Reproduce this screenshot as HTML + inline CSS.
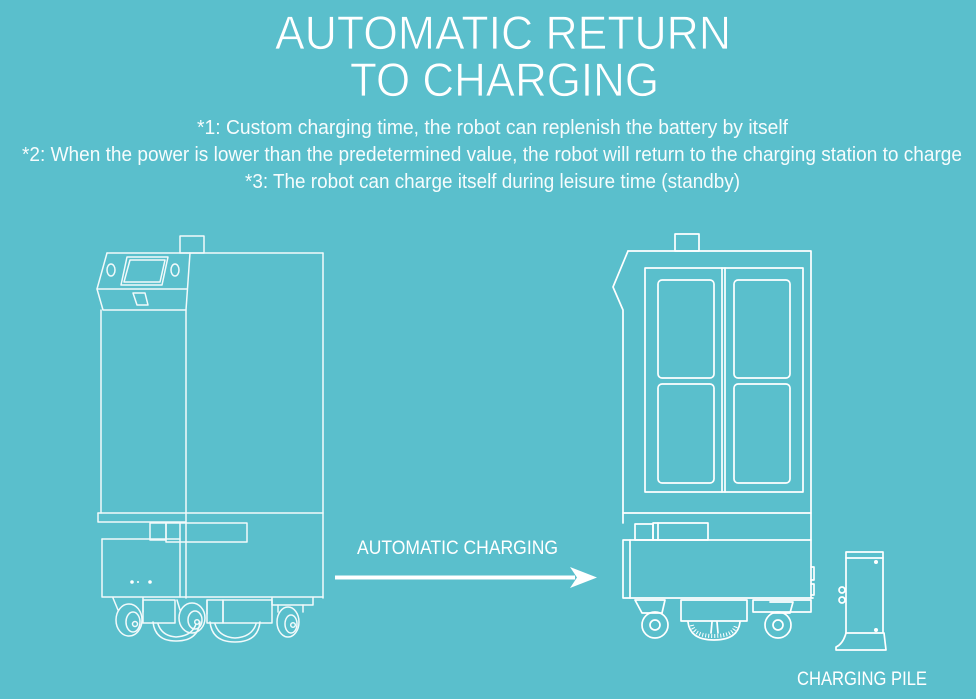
<!DOCTYPE html>
<html>
<head>
<meta charset="utf-8">
<style>
  html,body{margin:0;padding:0;background:#5ABFCC;}
  body{width:976px;height:699px;overflow:hidden;}
  svg{display:block;}
  .t{font-family:"Liberation Sans",sans-serif;fill:#fff;}
  .l{fill:none;stroke:#fff;stroke-width:1.7;stroke-linejoin:round;stroke-linecap:round;}
  .ls{fill:none;stroke:#fff;stroke-width:1.5;stroke-linejoin:round;stroke-linecap:round;opacity:.92;}
</style>
</head>
<body>
<svg width="976" height="699" viewBox="0 0 976 699" xmlns="http://www.w3.org/2000/svg">
  <rect x="0" y="0" width="976" height="699" fill="#5ABFCC"/>

  <!-- Title -->
  <text class="t" x="275" y="49" font-size="47" textLength="456" lengthAdjust="spacingAndGlyphs" stroke="#5ABFCC" stroke-width="0.8">AUTOMATIC RETURN</text>
  <text class="t" x="350" y="96" font-size="47" textLength="309" lengthAdjust="spacingAndGlyphs" stroke="#5ABFCC" stroke-width="0.8">TO CHARGING</text>

  <!-- Sub lines -->
  <text class="t" x="197" y="134" font-size="20" textLength="591" lengthAdjust="spacingAndGlyphs" fill-opacity="0.95">*1:  Custom charging time, the robot can replenish the battery by itself</text>
  <text class="t" x="22" y="161" font-size="20" textLength="940" lengthAdjust="spacingAndGlyphs" fill-opacity="0.95">*2: When the power is lower than the predetermined value, the robot will return to the charging station to charge</text>
  <text class="t" x="245" y="188" font-size="20" textLength="495" lengthAdjust="spacingAndGlyphs" fill-opacity="0.95">*3: The robot can charge itself during leisure time (standby)</text>

  <!-- ===== Left robot ===== -->
  <g class="ls">
    <rect x="180" y="236" width="24" height="17"/>
    <path d="M107,253 L323,253"/>
    <path d="M107,253 L97,289 L103,310 L186,310 L190,253"/>
    <path d="M97,289 L187,289"/>
    <path d="M127,257 L168,257 L162,285 L121,285 Z"/>
    <path d="M130,260 L165,260 L160,282 L124,282 Z"/>
    <ellipse cx="111" cy="270" rx="4" ry="6"/>
    <ellipse cx="175" cy="270" rx="4" ry="6"/>
    <path d="M133,293 L145,293 L148,305 L137,305 Z"/>
    <path d="M101,310 L101,513"/>
    <path d="M186,310 L186,598"/>
    <path d="M323,253 L323,598"/>
    <path d="M98,513 L323,513"/>
    <path d="M98,513 L98,522 L186,522"/>
    <rect x="150" y="523" width="16" height="17"/>
    <rect x="166" y="523" width="81" height="19"/>
    <path d="M102,539 L180,539"/>
    <path d="M102,539 L102,597 L323,597"/>
    <path d="M180,523 L180,597"/>
    <path d="M113,598 L118,610"/>
    <path d="M143,598 L143,612"/>
    <ellipse cx="129" cy="620" rx="13" ry="16"/>
    <ellipse cx="133" cy="622" rx="7" ry="10"/>
    <circle cx="135" cy="624" r="2.5"/>
    <rect x="143" y="600" width="32" height="23"/>
    <path d="M153,622 Q155,641 176,641 Q198,641 200,622"/>
    <path d="M158,624 Q162,636 176,637 Q192,636 196,624"/>
    <path d="M177,600 L180,610"/>
    <path d="M207,600 L207,614"/>
    <ellipse cx="192" cy="618" rx="13" ry="15"/>
    <ellipse cx="195" cy="620" rx="7" ry="9"/>
    <circle cx="197" cy="622" r="2.3"/>
    <rect x="207" y="600" width="16" height="23"/>
    <rect x="223" y="600" width="49" height="23"/>
    <path d="M210,622 Q212,642 235,642 Q258,642 260,622"/>
    <path d="M215,624 Q219,637 235,638 Q252,637 256,624"/>
    <path d="M272,598 L272,605 L313,605 L313,598"/>
    <path d="M278,605 L278,612"/>
    <path d="M303,605 L303,612"/>
    <ellipse cx="288" cy="622" rx="11" ry="15"/>
    <ellipse cx="291" cy="624" rx="6" ry="9"/>
    <circle cx="293" cy="625" r="2.3"/>
  </g>
  <circle cx="132" cy="582" r="1.8" fill="#fff"/>
  <circle cx="138" cy="582" r="1" fill="#fff"/>
  <circle cx="150" cy="582" r="1.8" fill="#fff"/>

  <!-- ===== Arrow ===== -->
  <text class="t" x="357" y="554" font-size="19" textLength="201" lengthAdjust="spacingAndGlyphs">AUTOMATIC CHARGING</text>
  <rect x="335" y="575.5" width="240" height="4" fill="#fff"/>
  <polygon points="570,567 597,577.5 570,588 577,577.5" fill="#fff"/>

  <!-- ===== Right robot ===== -->
  <g class="l">
    <rect x="675" y="234" width="24" height="17"/>
    <path d="M628,251 L811,251 L811,598"/>
    <path d="M628,251 L613,287 L623,310 L623,523"/>
    <path d="M623,513 L811,513"/>
    <rect x="645" y="268" width="158" height="224"/>
    <path d="M722,268 L722,492"/>
    <path d="M725,268 L725,492"/>
    <rect x="658" y="280" width="56" height="98" rx="4"/>
    <rect x="658" y="384" width="56" height="99" rx="4"/>
    <rect x="734" y="280" width="56" height="98" rx="4"/>
    <rect x="734" y="384" width="56" height="99" rx="4"/>
    <rect x="635" y="524" width="18" height="16"/>
    <rect x="653" y="523" width="55" height="17"/>
    <path d="M658,523 L658,540"/>
    <rect x="623" y="540" width="7" height="58"/>
    <path d="M630,540 L811,540"/>
    <path d="M630,598 L813,598"/>
    <path d="M811,567 L814,567 L814,580 L811,580"/>
    <path d="M811,584 L814,584 L814,595 L811,595"/>
    <path d="M635,600 L665,600 L662,613 L642,613 Z"/>
    <circle cx="655" cy="625" r="13"/>
    <circle cx="655" cy="625" r="5"/>
    <rect x="681" y="600" width="66" height="21"/>
    <path d="M688,622 Q690,640 714,640 Q738,640 740,622"/>
    <path d="M753,600 L811,600 L811,612 L753,612 Z"/>
    <path d="M770,602 L793,602 L790,613 L773,613"/>
    <circle cx="778" cy="625" r="13"/>
    <circle cx="778" cy="625" r="5"/>
    <path d="M712,622 L711,633"/>
    <path d="M717,622 L718,633"/>
  </g>
  <path d="M692,625 Q694,636 714,636 Q734,636 736,625" fill="none" stroke="#fff" stroke-width="4" stroke-dasharray="1 2"/>

  <!-- ===== Charging pile ===== -->
  <g class="l">
    <rect x="846" y="552" width="37" height="81"/>
    <path d="M846,558 L883,558"/>
    <path d="M846,633 Q843,644 836,647 L836,650 L886,650 L884,633"/>
    <circle cx="842" cy="590" r="3"/>
    <circle cx="842" cy="600" r="3"/>
  </g>
  <circle cx="876" cy="562" r="2" fill="#fff"/>
  <circle cx="876" cy="630" r="2" fill="#fff"/>
  <text class="t" x="797" y="685" font-size="19" textLength="130" lengthAdjust="spacingAndGlyphs">CHARGING PILE</text>
</svg>
</body>
</html>
